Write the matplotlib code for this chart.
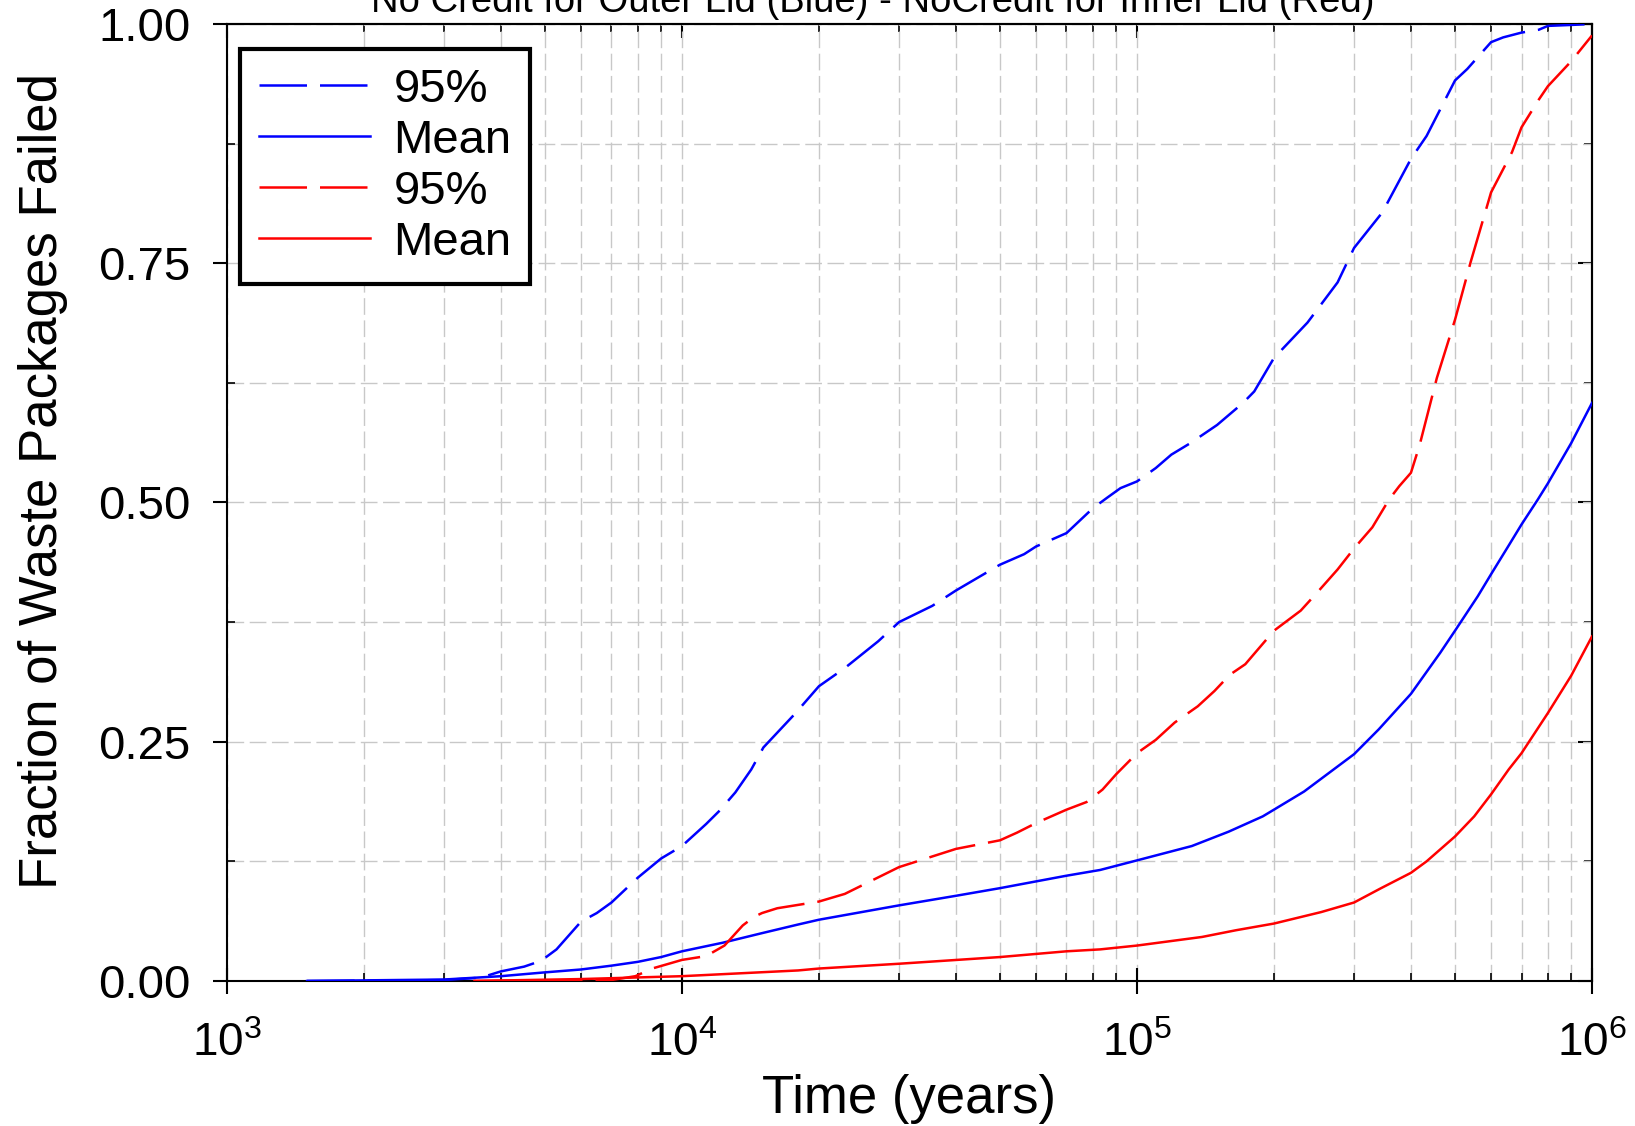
import matplotlib
matplotlib.use('Agg')
import matplotlib.pyplot as plt
from matplotlib.ticker import MultipleLocator, LogLocator, NullFormatter

plt.rcParams['font.family'] = ['Liberation Sans', 'DejaVu Sans']
plt.rcParams['mathtext.fontset'] = 'custom'
plt.rcParams['mathtext.rm'] = 'Liberation Sans'
plt.rcParams['mathtext.it'] = 'Liberation Sans:italic'
plt.rcParams['mathtext.bf'] = 'Liberation Sans:bold'

# blue: no credit for outer lid
blue95_t = [1500, 2500, 3000, 3500, 3700, 4000, 4500, 4900, 5300, 6000, 6500, 7000, 8000, 9000,
            10000, 11300, 12100, 13100, 14200, 15100, 17700, 20000, 22800, 27000, 30000, 35500,
            40000, 50000, 56500, 60000, 70000, 80000, 86000, 92000, 100000, 110000, 119000,
            131000, 150000, 171000, 181000, 200000, 237000, 276000, 300000, 346000, 400000,
            433000, 500000, 532000, 600000, 638000, 700000, 764000, 800000, 900000, 1000000]
blue95_v = [0, 0.0005, 0.001, 0.003, 0.005, 0.010, 0.015, 0.021, 0.033, 0.062, 0.071, 0.082,
            0.108, 0.128, 0.141, 0.164, 0.178, 0.197, 0.221, 0.244, 0.279, 0.308, 0.327, 0.355,
            0.375, 0.392, 0.408, 0.435, 0.446, 0.454, 0.468, 0.494, 0.505, 0.515, 0.522, 0.536,
            0.550, 0.562, 0.581, 0.604, 0.616, 0.651, 0.688, 0.730, 0.766, 0.803, 0.859, 0.883,
            0.941, 0.953, 0.981, 0.986, 0.991, 0.994, 0.998, 0.999, 1.0]

blue_mean_t = [1500, 3000, 4000, 5000, 6000, 7000, 8000, 9000, 10000, 12300, 15000, 18000,
               20000, 30000, 40000, 50000, 70000, 83000, 100000, 132000, 159000, 189000, 200000,
               233000, 300000, 340000, 400000, 464000, 500000, 561000, 600000, 656000, 700000,
               760000, 800000, 900000, 1000000]
blue_mean_v = [0, 0.0015, 0.005, 0.009, 0.012, 0.016, 0.020, 0.025, 0.031, 0.040, 0.050, 0.059,
               0.064, 0.079, 0.089, 0.097, 0.110, 0.116, 0.126, 0.141, 0.156, 0.172, 0.179,
               0.198, 0.237, 0.263, 0.300, 0.343, 0.366, 0.402, 0.425, 0.455, 0.477, 0.503,
               0.520, 0.562, 0.604]

# red: no credit for inner lid
red95_t = [3500, 7000, 7900, 8600, 9200, 10000, 11300, 12400, 13600, 14400, 15000, 16200, 20000,
           22800, 30000, 40000, 50000, 54500, 60000, 70000, 77500, 84000, 90000, 100000, 110000,
           121000, 136000, 148000, 160000, 173000, 200000, 229000, 249000, 276000, 300000,
           329000, 358000, 377000, 400000, 418000, 456000, 500000, 541000, 600000, 667000,
           700000, 764000, 800000, 900000, 1000000]
red95_v = [0, 0.001, 0.005, 0.013, 0.017, 0.022, 0.026, 0.037, 0.058, 0.067, 0.071, 0.076, 0.083,
           0.091, 0.119, 0.138, 0.147, 0.155, 0.165, 0.179, 0.187, 0.200, 0.216, 0.238, 0.252,
           0.270, 0.287, 0.303, 0.320, 0.331, 0.366, 0.387, 0.406, 0.430, 0.452, 0.474, 0.503,
           0.517, 0.531, 0.560, 0.630, 0.691, 0.751, 0.824, 0.866, 0.892, 0.921, 0.935, 0.961,
           0.988]

red_mean_t = [3500, 6000, 10000, 18000, 20000, 30000, 50000, 70000, 83000, 100000, 139000,
              165000, 200000, 254000, 300000, 344000, 400000, 433000, 500000, 551000, 600000,
              656000, 700000, 800000, 900000, 1000000]
red_mean_v = [0, 0.002, 0.005, 0.011, 0.013, 0.018, 0.025, 0.031, 0.033, 0.037, 0.046, 0.053,
              0.060, 0.072, 0.082, 0.097, 0.113, 0.125, 0.151, 0.172, 0.195, 0.221, 0.238,
              0.280, 0.319, 0.360]

labels = ['95%', 'Mean', '95%', 'Mean']
title = 'No Credit for Outer Lid (Blue) - NoCredit for Inner Lid (Red)'

fig = plt.figure(figsize=(16.35, 11.26), dpi=100)
ax = fig.add_axes([0.1388, 0.1288, 0.8349, 0.8499])

lw = 1.8
dash = (19, 5.2)
ax.plot(blue95_t, blue95_v, color='#0000ff', lw=lw, dashes=dash, label=labels[0], zorder=3)
ax.plot(blue_mean_t, blue_mean_v, color='#0000ff', lw=lw, label=labels[1], zorder=3)
ax.plot(red95_t, red95_v, color='#ff0000', lw=lw, dashes=dash, label=labels[2], zorder=3)
ax.plot(red_mean_t, red_mean_v, color='#ff0000', lw=lw, label=labels[3], zorder=3)

ax.set_xscale('log')
ax.set_xlim(1e3, 1e6)
ax.set_ylim(0, 1)
ax.xaxis.set_major_locator(LogLocator(base=10))
ax.xaxis.set_minor_locator(LogLocator(base=10, subs=range(2, 10)))
ax.xaxis.set_minor_formatter(NullFormatter())
ax.yaxis.set_major_locator(MultipleLocator(0.25))
ax.yaxis.set_minor_locator(MultipleLocator(0.125))
ax.yaxis.set_major_formatter(lambda v, p: '%.2f' % v)

ax.grid(True, which='both', color='#c8c8c8', lw=1, dashes=(12, 4), zorder=0)

for s in ax.spines.values():
    s.set_linewidth(1.5)

ax.tick_params(axis='y', which='major', direction='out', length=10, width=1.5,
               labelsize=34, pad=16, right=False)
ax.tick_params(axis='y', which='minor', direction='in', length=6, width=1.2, right=False)
ax.tick_params(axis='x', which='major', direction='inout', length=19, width=1.5,
               labelsize=33, pad=20, top=False)
ax.tick_params(axis='x', which='minor', direction='in', length=6, width=1.2, top=False)

# ticks on top and right point inward
sec_y = ax.secondary_yaxis('right')
sec_y.yaxis.set_major_locator(MultipleLocator(0.25))
sec_y.yaxis.set_minor_locator(MultipleLocator(0.125))
sec_y.tick_params(which='major', direction='in', length=10, width=1.5, labelright=False)
sec_y.tick_params(which='minor', direction='in', length=6, width=1.2)
sec_y.spines['right'].set_linewidth(1.5)

sec_x = ax.secondary_xaxis('top')
sec_x.xaxis.set_major_locator(LogLocator(base=10))
sec_x.xaxis.set_minor_locator(LogLocator(base=10, subs=range(2, 10)))
sec_x.xaxis.set_minor_formatter(NullFormatter())
sec_x.tick_params(which='major', direction='in', length=10, width=1.5, labeltop=False)
sec_x.tick_params(which='minor', direction='in', length=6, width=1.2)
sec_x.spines['top'].set_linewidth(1.5)

ax.set_xlabel('Time (years)', fontsize=38, labelpad=6)
ax.set_ylabel('Fraction of Waste Packages Failed', fontsize=38, labelpad=22)
ax.yaxis.label.set_y(0.522)

leg = ax.legend(loc='upper left', bbox_to_anchor=(0.0095, 0.974), fontsize=34,
                frameon=True, fancybox=False, framealpha=1, edgecolor='black',
                handlelength=2.35, handletextpad=0.5, labelspacing=0.15,
                borderpad=0.4, borderaxespad=0)
leg.get_frame().set_linewidth(3)

fig.text(0.534, 1 - 12 / 1126, title, ha='center', va='baseline', fontsize=27.5)

fig.savefig('out.png', dpi=100)
